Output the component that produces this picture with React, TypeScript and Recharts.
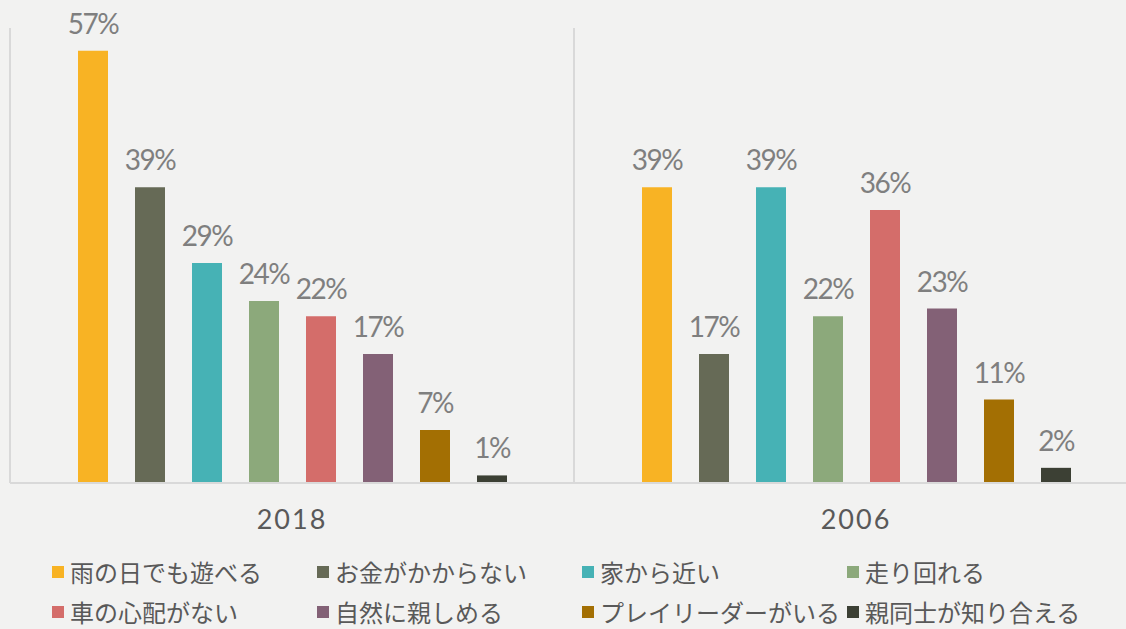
import React from 'react';
import { BarChart, Bar, XAxis, YAxis, CartesianGrid, Legend, LabelList } from 'recharts';

const categories = ['2018', '2006'];
const seriesNames = [
  '雨の日でも遊べる',
  'お金がかからない',
  '家から近い',
  '走り回れる',
  '車の心配がない',
  '自然に親しめる',
  'プレイリーダーがいる',
  '親同士が知り合える',
];
const values2018 = [57, 39, 29, 24, 22, 17, 7, 1];
const values2006 = [39, 17, 39, 22, 36, 23, 11, 2];
const seriesColors = ['#f8b324', '#666a56', '#46b2b5', '#8ca97b', '#d46d6a', '#836176', '#a36f03', '#3c4034'];

const valuesByCategory = [values2018, values2006];
const data = categories.map((cat, ci) => {
  const row: Record<string, string | number> = { year: cat };
  seriesNames.forEach((name, si) => {
    row[`s${si}`] = valuesByCategory[ci][si];
  });
  return row;
});

const LegendContent = () => {
  return (
    <div
      style={{
        display: 'grid',
        gridTemplateColumns: 'repeat(4, 265px)',
        paddingLeft: 52,
        paddingTop: 9,
        height: 86,
        boxSizing: 'border-box',
      }}
    >
      {seriesNames.map((name, si) => (
        <div
          key={name}
          style={{
            display: 'flex',
            alignItems: 'center',
            height: 40,
            whiteSpace: 'nowrap',
          }}
        >
          <span
            style={{
              display: 'inline-block',
              width: 12,
              height: 12,
              background: seriesColors[si],
              marginRight: 6,
              flex: 'none',
            }}
          />
          <span
            style={{
              fontFamily: '"Noto Sans CJK JP", "Noto Sans", sans-serif',
              fontSize: 24,
              color: '#595959',
              lineHeight: '40px',
            }}
          >
            {name}
          </span>
        </div>
      ))}
    </div>
  );
};

export default function App() {
  return (
    <div
      style={{
        position: 'absolute',
        left: 0,
        top: 0,
        width: 1126,
        height: 629,
        overflow: 'hidden',
        background: '#f2f2f1',
      }}
    >
      <BarChart
        width={1138}
        height={629}
        data={data}
        margin={{ top: 28, right: 0, bottom: 0, left: 10 }}
        barSize={30}
        barGap={27}
      >
        <CartesianGrid
          horizontal={false}
          vertical={true}
          stroke="#d9d9d9"
          strokeWidth={2}
          verticalCoordinatesGenerator={({ offset }: any) =>
            Array.from({ length: categories.length + 1 }, (_, i) => offset.left + (offset.width * i) / categories.length)
          }
        />
        <XAxis
          dataKey="year"
          axisLine={{ stroke: '#d9d9d9', strokeWidth: 2 }}
          tickLine={false}
          height={60}
          tickMargin={21}
          tick={{ fontSize: 27, fill: '#595959', fontFamily: 'Lato, sans-serif', letterSpacing: 2 }}
        />
        <YAxis hide domain={[0, 60]} />
        <Legend verticalAlign="bottom" content={LegendContent} wrapperStyle={{ left: 0, width: 1126, bottom: 0 }} />
        {seriesNames.map((name, si) => (
          <Bar key={name} dataKey={`s${si}`} name={name} fill={seriesColors[si]} isAnimationActive={false}>
            <LabelList
              dataKey={`s${si}`}
              position="top"
              offset={17}
              formatter={(v: any) => `${v}%`}
              style={{ fontSize: 28, fill: '#7f7f7f', fontFamily: 'Lato, sans-serif', letterSpacing: -1.5 }}
            />
          </Bar>
        ))}
      </BarChart>
    </div>
  );
}
